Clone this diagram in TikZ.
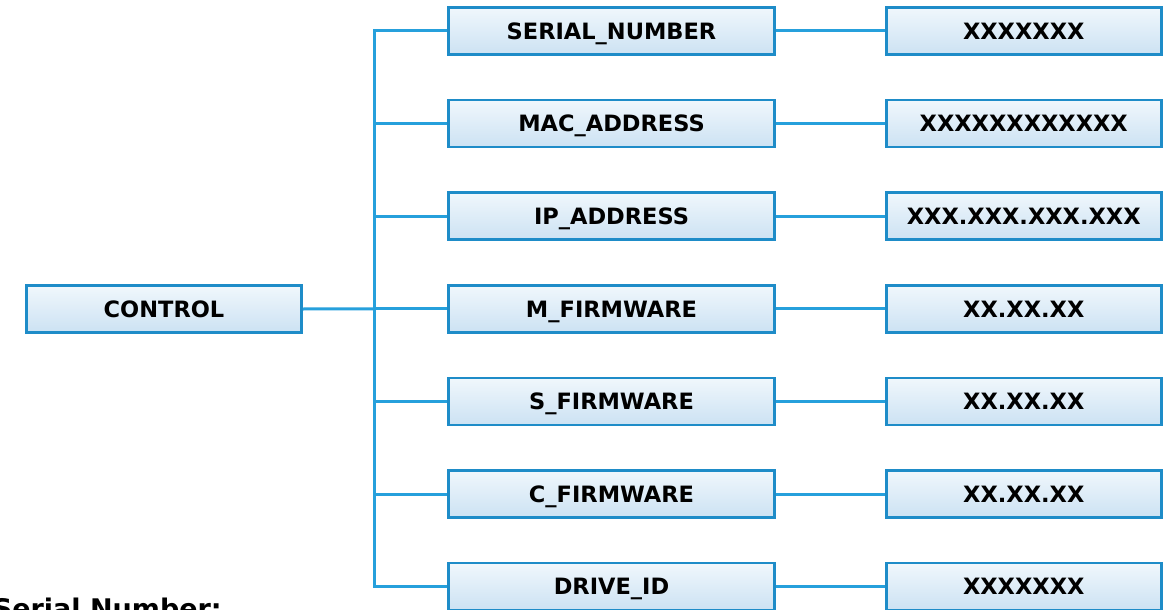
\documentclass[tikz,border=0pt]{standalone}
\usepackage{fontspec}
\newfontfamily\labfont{DejaVu Sans}
\usetikzlibrary{positioning}
\definecolor{boxedge}{RGB}{30,140,200}
\definecolor{linkcol}{RGB}{38,160,220}
\definecolor{filltop}{RGB}{240,247,252}
\definecolor{fillbot}{RGB}{204,226,243}
\tikzset{
  box/.style={draw=boxedge, line width=2.5pt, top color=filltop, bottom color=fillbot,
    minimum height=47pt, inner sep=0pt, text height=16.4pt, text depth=0pt,
    font=\labfont\bfseries\fontsize{22.5}{26}\selectfont},
  midbox/.style={box, minimum width=326pt},
  sidebox/.style={box, minimum width=275pt},
  link/.style={draw=linkcol, line width=3pt}
}
\begin{document}
\begin{tikzpicture}[x=1pt,y=-1pt]
\useasboundingbox (0,0) rectangle (1170,610);
\node[sidebox] (ctrl) at (164,309) {CONTROL};
\foreach \i/\a/\b in {0/SERIAL\_NUMBER/XXXXXXX,
                      1/MAC\_ADDRESS/XXXXXXXXXXXX,
                      2/IP\_ADDRESS/XXX.XXX.XXX.XXX,
                      3/M\_FIRMWARE/XX.XX.XX,
                      4/S\_FIRMWARE/XX.XX.XX,
                      5/C\_FIRMWARE/XX.XX.XX,
                      6/DRIVE\_ID/XXXXXXX}{
  \pgfmathsetmacro{\yy}{31+92.6*\i}
  \node[midbox] (m\i) at (611.5,\yy) {\a};
  \node[sidebox] (r\i) at (1023.75,\yy) {\b};
  \coordinate (j\i) at (374,\yy);
  \draw[link] (j\i) -- (m\i.west);
  \draw[link] (m\i.east) -- (r\i.west);
}
\draw[link, line cap=rect] (j0) -- (j6);
\draw[link] (ctrl.east) -- (j3);
\node[anchor=base east, inner sep=0pt, font=\labfont\bfseries\fontsize{27}{31}\selectfont] (sn) at (222,618) {Serial Number:};
\end{tikzpicture}
\end{document}
